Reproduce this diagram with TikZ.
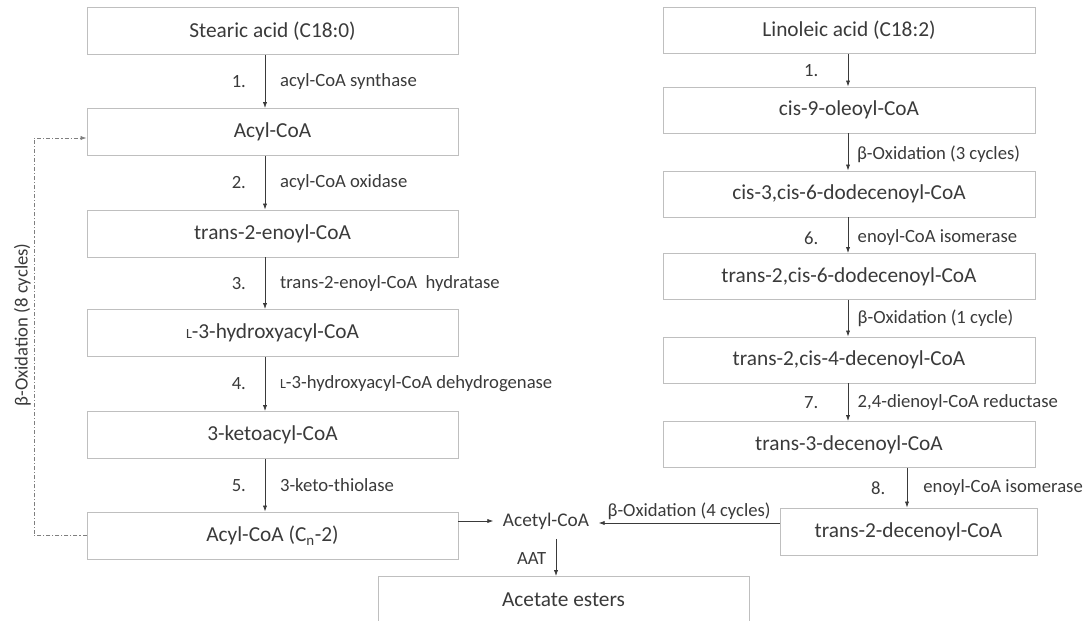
\documentclass[tikz,border=0pt]{standalone}
\usepackage{fontspec}
\setmainfont{Carlito}
\usetikzlibrary{arrows.meta,calc}
\definecolor{boxline}{HTML}{BFBFBF}
\definecolor{ink}{HTML}{3A3A3A}
\definecolor{loopline}{HTML}{7F7F7F}
\newcommand{\smallL}{{\fontsize{10.5}{12}\selectfont L}}
\begin{document}
\begin{tikzpicture}[x=0.75pt,y=-0.75pt,
  every node/.style={text=ink},
  stepbox/.style={draw=boxline, line width=0.7pt, inner sep=0pt,
    minimum width=278.25pt, minimum height=35.25pt,
    font=\fontsize{16}{19}\selectfont},
  rstepbox/.style={stepbox, minimum width=279pt, minimum height=34.5pt},
  arr/.style={draw=ink, line width=0.6pt, -{Latex[length=4.5pt,width=3.2pt]}},
  lab/.style={font=\fontsize{14}{17}\selectfont, inner sep=0pt},
  num/.style={font=\fontsize{14}{17}\selectfont, inner sep=0pt},
  loop/.style={draw=loopline, line width=0.6pt,
    dash pattern=on 3pt off 1.5pt on 0.8pt off 1.5pt,
    -{Latex[length=4.5pt,width=3.2pt]}}
]
\useasboundingbox (0,0) rectangle (1090,621);

% left pathway: saturated fatty acid
\node[stepbox] (stearic) at (272.5,31)   {Stearic acid (C18:0)};
\node[stepbox] (acyl)    at (272.5,132)  {Acyl-CoA};
\node[stepbox] (enoyl)   at (272.5,233.5){trans-2-enoyl-CoA};
\node[stepbox] (hydroxy) at (272.5,333)  {\smallL-3-hydroxyacyl-CoA};
\node[stepbox] (keto)    at (272.5,435)  {3-ketoacyl-CoA};
\node[stepbox] (acyln)   at (272.5,535.5){Acyl-CoA (C\textsubscript{n}-2)};

% right pathway: linoleic acid
\node[rstepbox] (lino)   at (849,30.5)  {Linoleic acid (C18:2)};
\node[rstepbox] (oleoyl) at (849,110)   {cis-9-oleoyl-CoA};
\node[rstepbox] (dodA)   at (849,194)   {cis-3,cis-6-dodecenoyl-CoA};
\node[rstepbox] (dodB)   at (849,276.5) {trans-2,cis-6-dodecenoyl-CoA};
\node[rstepbox] (decA)   at (849,360)   {trans-2,cis-4-decenoyl-CoA};
\node[rstepbox] (decB)   at (849,444.5) {trans-3-decenoyl-CoA};
\node[stepbox, minimum width=192.75pt] (decC) at (908.5,531.5) {trans-2-decenoyl-CoA};

% end products
\node[font=\fontsize{14.5}{17}\selectfont, inner sep=7pt] (acetyl) at (546,521) {Acetyl-CoA};
\node[stepbox] (esters) at (563.5,600) {Acetate esters};

% vertical guide positions of the arrows
\coordinate (lx) at (265,0);
\coordinate (rx) at (848,0);
\coordinate (ex) at (907,0);
\coordinate (ax) at (556,0);
\coordinate (loopx) at (34,0);

% left chain
\draw[arr] (stearic.south -| lx) -- node[lab, anchor=west, xshift=11pt]{acyl-CoA synthase}
  node[num, anchor=east, xshift=-14pt]{1.} (acyl.north -| lx);
\draw[arr] (acyl.south -| lx) -- node[lab, anchor=west, xshift=11pt]{acyl-CoA oxidase}
  node[num, anchor=east, xshift=-14pt]{2.} (enoyl.north -| lx);
\draw[arr] (enoyl.south -| lx) -- node[lab, anchor=west, xshift=11pt]{trans-2-enoyl-CoA\ \ hydratase}
  node[num, anchor=east, xshift=-14pt]{3.} (hydroxy.north -| lx);
\draw[arr] (hydroxy.south -| lx) -- node[lab, anchor=west, xshift=11pt]{\smallL-3-hydroxyacyl-CoA dehydrogenase}
  node[num, anchor=east, xshift=-14pt]{4.} (keto.north -| lx);
\draw[arr] (keto.south -| lx) -- node[lab, anchor=west, xshift=11pt]{3-keto-thiolase}
  node[num, anchor=east, xshift=-14pt]{5.} (acyln.north -| lx);

% right chain
\draw[arr] (lino.south -| rx) -- node[num, anchor=east, xshift=-22pt]{1.} (oleoyl.north -| rx);
\draw[arr] (oleoyl.south -| rx) -- node[lab, anchor=west, xshift=6.5pt, yshift=-2pt]{β-Oxidation (3 cycles)} (dodA.north -| rx);
\draw[arr] (dodA.south -| rx) -- node[lab, anchor=west, xshift=7pt, yshift=-2pt]{enoyl-CoA isomerase}
  node[num, anchor=east, xshift=-22pt, yshift=-2pt]{6.} (dodB.north -| rx);
\draw[arr] (dodB.south -| rx) -- node[lab, anchor=west, xshift=7pt]{β-Oxidation (1 cycle)} (decA.north -| rx);
\draw[arr] (decA.south -| rx) -- node[lab, anchor=west, xshift=7pt]{2,4-dienoyl-CoA reductase}
  node[num, anchor=east, xshift=-22pt]{7.} (decB.north -| rx);
\draw[arr] (decB.south -| ex) -- node[lab, anchor=west, xshift=12pt]{enoyl-CoA isomerase}
  node[num, anchor=east, xshift=-16pt]{8.} (decC.north -| ex);

% toward acetyl-CoA and the esters
\draw[arr] (acyln.east |- acetyl.west) -- (acetyl.west);
\draw[arr] ($(decC.west)+(0,-8.5)$) -- node[lab, above=2pt]{β-Oxidation (4 cycles)} ($(acetyl.east)+(0,2)$);
\draw[arr] (acetyl.south -| ax) -- node[lab, anchor=east, xshift=-7pt, yshift=-1pt]{AAT} (esters.north -| ax);

% repeated beta-oxidation loop
\draw[loop] (acyln.west) -- (acyln.west -| loopx)
  -- node[lab, rotate=90, above=2pt, pos=0.53]{β-Oxidation (8 cycles)}
  ($(acyl.west -| loopx)+(0,6)$) -- ($(acyl.west)+(0,6)$);
\end{tikzpicture}
\end{document}
